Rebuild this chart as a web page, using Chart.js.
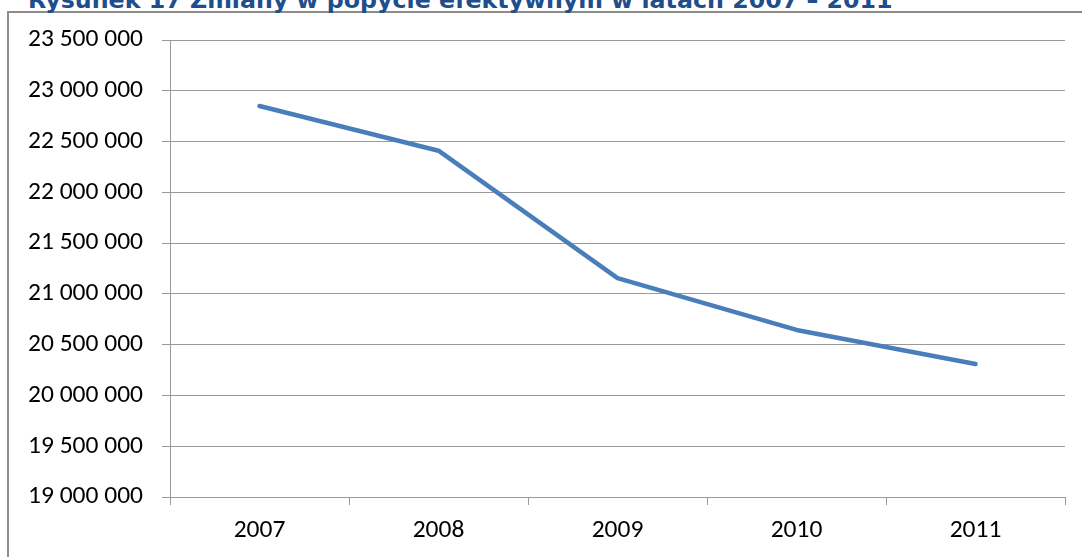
<!DOCTYPE html>
<html>
<head>
<meta charset="utf-8">
<script src="https://cdn.jsdelivr.net/npm/chart.js@4/dist/chart.umd.min.js"></script>
<style>
    body { margin: 0; background: #fff; overflow: hidden; }
    #frame {
        position: absolute; left: 7px; top: 11px;
        width: 1120px; height: 600px;
        border: 2px solid #8c8c8c;
    }
    #title {
        position: absolute; left: 28px; top: 0;
        font-family: "DejaVu Sans", Verdana, sans-serif;
        font-weight: bold; color: #1f4e8c;
        white-space: nowrap; line-height: normal;
    }
    #wrap { position: absolute; left: 0; top: 0; width: 1082px; height: 557px; }
</style>
</head>
<body>
<div id="frame"></div>
<div id="title">Rysunek 17 Zmiany w popycie efektywnym w latach 2007 – 2011</div>
<div id="wrap"><canvas id="chart" width="1082" height="557"></canvas></div>
<script>
// Dane
const years = ['2007', '2008', '2009', '2010', '2011'];
const demand = [22850000, 22410000, 21155000, 20645000, 20310000];
const yMin = 19000000;
const yMax = 23500000;
const yStep = 500000;

const tickFont = { family: "Carlito, 'Liberation Sans', Arial, sans-serif", size: 25.5 };

// Tytuł (obcięty u góry jak w oryginale)
(function placeTitle() {
    const title = document.getElementById('title');
    const ctx = document.createElement('canvas').getContext('2d');
    ctx.font = 'bold 20px "DejaVu Sans"';
    const m = ctx.measureText(title.textContent);
    const size = 20 * 865 / m.width;
    title.style.fontSize = size + 'px';
    ctx.font = 'bold ' + size + 'px "DejaVu Sans"';
    const asc = ctx.measureText(title.textContent).fontBoundingBoxAscent;
    title.style.top = (7.5 - asc) + 'px';
})();

function spaced(v) {
    return String(v).replace(/\B(?=(\d{3})+(?!\d))/g, ' ');
}

new Chart(document.getElementById('chart').getContext('2d'), {
    type: 'line',
    data: {
        labels: years,
        datasets: [{
            data: demand,
            borderColor: '#4a7ebb',
            borderWidth: 4.5,
            borderCapStyle: 'round',
            borderJoinStyle: 'round',
            pointRadius: 0,
            tension: 0,
            fill: false
        }]
    },
    options: {
        responsive: false,
        animation: false,
        layout: { padding: { top: 40, right: 17, left: 0, bottom: 0 } },
        plugins: {
            legend: { display: false },
            tooltip: { enabled: false }
        },
        scales: {
            x: {
                offset: true,
                afterFit: s => { s.height = 60; },
                grid: {
                    offset: true,
                    drawOnChartArea: false,
                    tickLength: 8,
                    color: '#9a9a9a',
                    lineWidth: 1
                },
                border: { color: '#9a9a9a', width: 1 },
                ticks: { font: tickFont, color: '#000', padding: 10, maxRotation: 0 }
            },
            y: {
                min: yMin,
                max: yMax,
                afterFit: s => { s.width = 170; },
                grid: { tickLength: 8, color: '#9a9a9a', lineWidth: 1 },
                border: { color: '#9a9a9a', width: 1 },
                ticks: {
                    stepSize: yStep,
                    font: tickFont,
                    color: '#000',
                    padding: 19,
                    callback: v => spaced(v)
                }
            }
        }
    }
});
</script>
</body>
</html>
